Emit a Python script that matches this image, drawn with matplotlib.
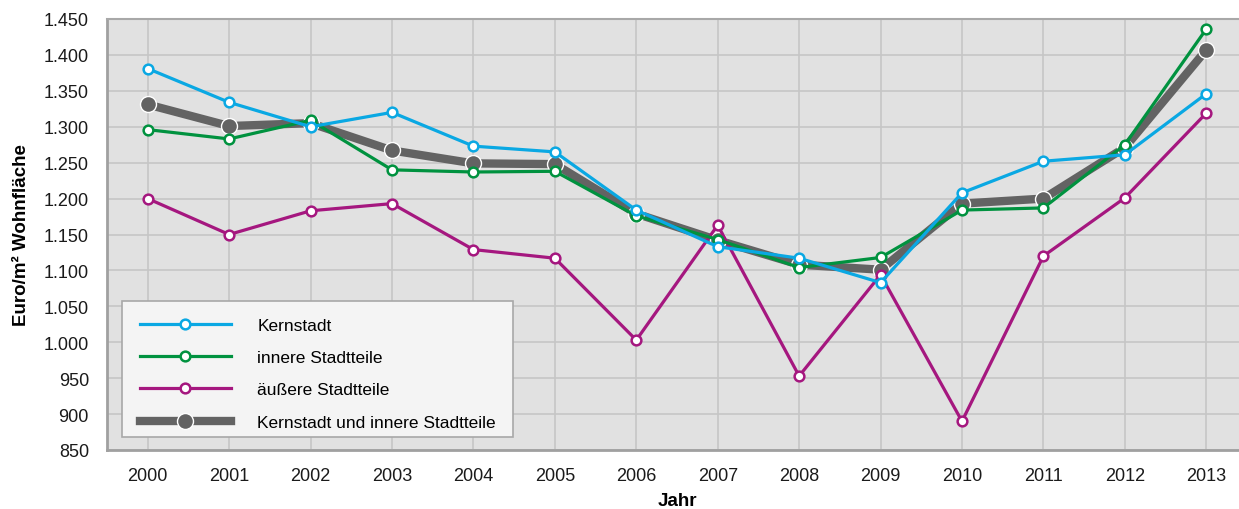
import matplotlib
matplotlib.use("Agg")
import matplotlib.pyplot as plt
from matplotlib.patches import Rectangle
from matplotlib.ticker import FuncFormatter

plt.rcParams['font.family'] = ['Liberation Sans', 'DejaVu Sans']

# Mietpreise Euro/m² Wohnfläche je Gebiet
jahre = [2000, 2001, 2002, 2003, 2004, 2005, 2006, 2007, 2008, 2009, 2010, 2011, 2012, 2013]
kernstadt = [1381, 1334, 1300, 1320, 1273, 1265, 1184, 1133, 1117, 1083, 1208, 1252, 1261, 1346]
innere = [1296, 1283, 1309, 1240, 1237, 1238, 1176, 1143, 1104, 1118, 1184, 1187, 1275, 1436]
aeussere = [1200, 1150, 1183, 1193, 1129, 1117, 1003, 1163, 953, 1094, 890, 1120, 1201, 1319]
kern_innere = [1331, 1301, 1305, 1267, 1249, 1248, 1179, 1142, 1108, 1101, 1193, 1200, 1271, 1407]

fig = plt.figure(figsize=(12.39, 5.10), dpi=100)
ax = fig.add_axes([107 / 1239, 59 / 510, 1140 / 1239, 431 / 510])
ax.set_facecolor('#e1e1e1')

x = list(range(len(jahre)))

ax.plot(x, kern_innere, color='#636363', lw=6, marker='o', ms=11.5,
        mfc='#636363', mec='white', mew=1.0, zorder=3,
        label='Kernstadt und innere Stadtteile')
ax.plot(x, aeussere, color='#a5177f', lw=2.3, marker='o', ms=7,
        mfc='white', mec='#a5177f', mew=1.8, zorder=4,
        label='äußere Stadtteile')
ax.plot(x, innere, color='#00923f', lw=2.3, marker='o', ms=7,
        mfc='white', mec='#00923f', mew=1.8, zorder=5,
        label='innere Stadtteile')
ax.plot(x, kernstadt, color='#0aa8e3', lw=2.3, marker='o', ms=7,
        mfc='white', mec='#0aa8e3', mew=1.8, zorder=6,
        label='Kernstadt')

ax.set_xlim(-0.5, len(jahre) - 0.5)
ax.set_ylim(850, 1450)
ax.set_yticks(range(850, 1451, 50))
ax.set_xticks(x)
ax.set_xticklabels([str(j) for j in jahre])
ax.yaxis.set_major_formatter(FuncFormatter(lambda v, p: f"{int(v):,}".replace(',', '.')))

ax.grid(True, color='#c6c6c6', lw=1.2)
ax.set_axisbelow(True)
ax.tick_params(length=0, labelsize=13, colors='#1a1a1a')
ax.tick_params(axis='x', pad=12)
ax.tick_params(axis='y', pad=13)

for side in ['left', 'bottom']:
    ax.spines[side].set_color('#a0a0a0')
    ax.spines[side].set_linewidth(2)
ax.spines['top'].set_color('#a8a8a8')
ax.spines['top'].set_linewidth(1.5)
ax.spines['right'].set_visible(False)

ax.set_xlabel('Jahr', fontsize=13.5, fontweight='bold', labelpad=6)
ax.set_ylabel('Euro/m² Wohnfläche', fontsize=13.5, fontweight='bold', labelpad=10)

# Legendenkasten separat, damit oben/unten weniger Rand bleibt als seitlich
kasten = Rectangle((0.0132, 0.030), 0.343, 0.3155, transform=ax.transAxes,
                   facecolor='#f4f4f4', edgecolor='#a8a8a8', lw=1.2, zorder=9)
ax.add_patch(kasten)

handles, labels = ax.get_legend_handles_labels()
order = [3, 2, 1, 0]
leg = ax.legend([handles[i] for i in order], [labels[i] for i in order],
                loc='lower left', bbox_to_anchor=(0.0132, 0.0045),
                fontsize=12.5, handlelength=5.2, handletextpad=1.55,
                labelspacing=0.99, borderpad=1.05, borderaxespad=0,
                frameon=False)
leg.set_zorder(10)

fig.savefig('out.png', dpi=100)
